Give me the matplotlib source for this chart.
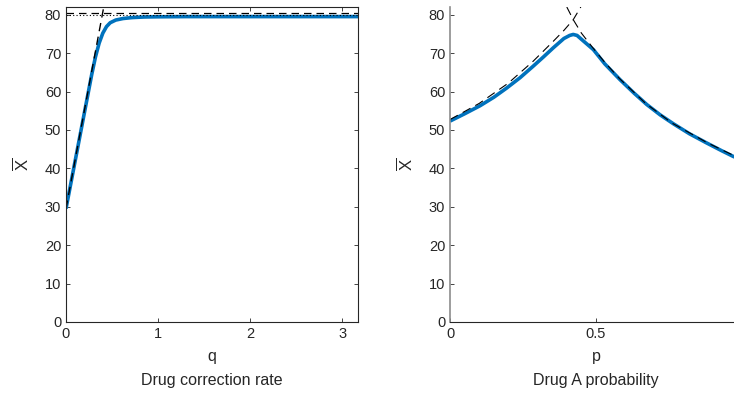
import numpy as np
import matplotlib
matplotlib.use("Agg")
import matplotlib.pyplot as plt

plt.rcParams['font.family'] = ['Liberation Sans Narrow', 'Liberation Sans', 'DejaVu Sans']
plt.rcParams['mathtext.fontset'] = 'custom'
plt.rcParams['mathtext.rm'] = 'Liberation Sans'
plt.rcParams['font.size'] = 10

# correction-rate sweep: simulated mean and the two limiting approximations
q_sim = [0, 0.1, 0.2, 0.28, 0.32, 0.36, 0.40, 0.44, 0.48, 0.54, 0.62, 0.72,
         0.85, 1.0, 1.3, 2.0, 3.2]
x_sim_q = [29.5, 42.0, 54.5, 64.5, 69.0, 72.6, 75.2, 76.9, 77.9, 78.6, 79.0,
           79.25, 79.4, 79.45, 79.5, 79.5, 79.5]
q_lin = [0, 0.41]
x_lin_q = [29.5, 82.0]
x_upper = 80.4
x_lower = 79.8

# drug A probability sweep
p_sim = [0, 0.05, 0.103, 0.15, 0.194, 0.24, 0.285, 0.32, 0.354, 0.39, 0.41,
         0.422, 0.435, 0.45, 0.491, 0.53, 0.582, 0.63, 0.674, 0.72, 0.765,
         0.82, 0.879, 0.93, 0.97, 1.0]
x_sim_p = [52.3, 54.2, 56.3, 58.5, 60.9, 63.6, 66.6, 69.0, 71.4, 73.8, 74.6,
           74.85, 74.6, 73.6, 70.9, 67.2, 63.1, 59.6, 56.6, 53.9, 51.6,
           49.0, 46.6, 44.6, 43.1, 42.2]
p_left = [0, 0.1, 0.2, 0.285, 0.354, 0.39, 0.422, 0.448]
x_left = [52.7, 56.9, 62.2, 67.9, 73.1, 75.9, 78.7, 82.0]
p_right = [0.40, 0.422, 0.45, 0.49, 0.53, 0.58, 0.67, 0.76, 0.88, 1.0]
x_right = [82.0, 78.7, 75.2, 71.3, 67.6, 63.4, 56.9, 51.8, 46.7, 42.3]

blue = '#0072BD'
dark = '#262626'

fig = plt.figure(figsize=(7.34, 3.93), dpi=100)
ax1 = fig.add_axes([0.0899, 0.1807, 0.3978, 0.8015])
ax2 = fig.add_axes([0.6131, 0.1807, 0.3978, 0.8015])

# left panel
ax1.plot(q_sim, x_sim_q, color=blue, lw=2.6, solid_capstyle='butt')
ax1.plot(q_lin, x_lin_q, color='k', lw=1.0, ls=(0, (6, 4)))
ax1.axhline(x_upper, color='k', lw=0.9, ls=(0, (6, 4)))
ax1.axhline(x_lower, color='k', lw=0.8, ls=(0, (1, 2)))
ax1.set_xlim(0, 3.17)
ax1.set_ylim(0, 82)
ax1.set_xticks([0, 1, 2, 3])
ax1.set_yticks(range(0, 81, 10))
ax1.tick_params(direction='in', length=3, width=0.6, colors=dark,
                top=True, right=True, labelsize=10.5)
for s in ax1.spines.values():
    s.set_color(dark)
    s.set_linewidth(0.8)
ax1.set_xlabel('q\nDrug correction rate', linespacing=1.75, color=dark,
               fontsize=11.5, labelpad=6)
ax1.set_ylabel(r'$\overline{\rm X}$', color=dark, fontsize=12, labelpad=10)

# right panel
ax2.plot(p_sim, x_sim_p, color=blue, lw=2.6, solid_capstyle='butt')
ax2.plot(p_left, x_left, color='k', lw=0.8, ls=(0, (8, 5)))
ax2.plot(p_right, x_right, color='k', lw=0.8, ls=(0, (8, 5)))
ax2.set_xlim(0, 1)
ax2.set_ylim(0, 82)
ax2.set_xticks([0, 0.5])
ax2.set_xticklabels(['0', '0.5'])
ax2.set_yticks(range(0, 81, 10))
ax2.tick_params(direction='in', length=3, width=0.6, colors=dark, labelsize=10.5)
ax2.spines['top'].set_visible(False)
ax2.spines['right'].set_visible(False)
ax2.spines['left'].set_color('#8c8c8c')
ax2.spines['left'].set_linewidth(1.2)
ax2.spines['bottom'].set_color(dark)
ax2.spines['bottom'].set_linewidth(0.8)
ax2.set_xlabel('p\nDrug A probability', linespacing=1.75, color=dark,
               fontsize=11.5, labelpad=6)
ax2.set_ylabel(r'$\overline{\rm X}$', color=dark, fontsize=12, labelpad=10)

fig.savefig('out.png', dpi=100)
